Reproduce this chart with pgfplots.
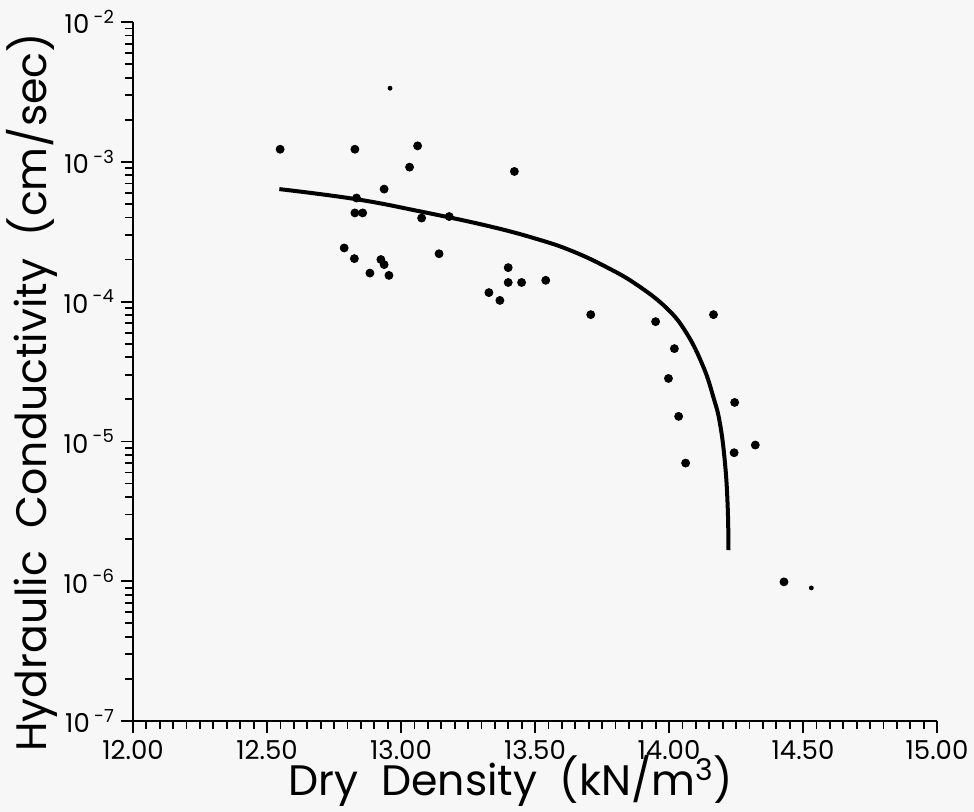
\documentclass[border=0pt]{standalone}
\usepackage{fontspec}
\setmainfont{Poppins}
\usepackage{pgfplots}
\pgfplotsset{compat=1.18}
\newcommand{\sx}[1]{10\,\raisebox{0.75ex}{\fontsize{9}{9}\selectfont #1}}
\begin{document}
\begin{tikzpicture}
\path[use as bounding box, fill=black!3] (0,0) rectangle (487pt,406pt);
\begin{axis}[
  at={(66.5pt,45.5pt)}, anchor=south west,
  scale only axis, width=402pt, height=349.5pt,
  xmin=12, xmax=15, ymin=1e-7, ymax=1e-2,
  ymode=log, log basis y=10,
  axis lines=left, axis line style={line width=1.4pt,-},
  tick align=outside, tick style={black, line width=0.9pt},
  major tick length=6pt, minor tick length=4pt,
  xtick={12,12.5,13,13.5,14,14.5,15},
  xticklabels={12.00,12.50,13.00,13.50,14.00,14.50,15.00},
  minor x tick num=9,
  ytick={1e-7,1e-6,1e-5,1e-4,1e-3,1e-2},
  yticklabels={\sx{-7},\sx{-6},\sx{-5},\sx{-4},\sx{-3},\sx{-2}},
  minor ytick={2e-7,3e-7,4e-7,5e-7,6e-7,7e-7,8e-7,9e-7,
               2e-6,3e-6,4e-6,5e-6,6e-6,7e-6,8e-6,9e-6,
               2e-5,3e-5,4e-5,5e-5,6e-5,7e-5,8e-5,9e-5,
               2e-4,3e-4,4e-4,5e-4,6e-4,7e-4,8e-4,9e-4,
               2e-3,3e-3,4e-3,5e-3,6e-3,7e-3,8e-3,9e-3},
  ticklabel style={font=\fontsize{13}{13}\selectfont},
  every axis x label/.style={at={(axis description cs:0.47,-0.107)}, anchor=base},
  every axis y label/.style={at={(axis description cs:-0.126,0.47)}, rotate=90, anchor=center},
  label style={font=\fontsize{21.3}{21.3}\selectfont},
  xlabel={Dry\ \ Density\ \ (kN/m\textsuperscript{3})},
  ylabel={Hydraulic\ \ Conductivity\ \ (cm/sec)},
  clip=false,
]
% fitted curve
\addplot[black, line width=2pt, smooth, tension=0.7] coordinates {
 (12.546,6.38e-4) (12.828,5.42e-4) (13.071,4.42e-4) (13.332,3.45e-4)
 (13.519,2.76e-4) (13.643,2.28e-4) (13.768,1.76e-4) (13.880,1.32e-4)
 (13.992,8.95e-5) (14.066,5.93e-5) (14.128,3.42e-5) (14.165,2.09e-5)
 (14.190,1.35e-5) (14.209,6.97e-6) (14.219,3.41e-6) (14.222,1.67e-6)
};
% data points
\addplot[only marks, mark=*, mark size=2pt, black] coordinates {
 (12.549,1.23e-3) (12.828,1.23e-3) (13.062,1.30e-3) (13.032,9.16e-4)
 (13.423,8.53e-4) (12.937,6.38e-4) (12.834,5.51e-4) (12.828,4.31e-4)
 (12.857,4.31e-4) (13.077,3.96e-4) (13.180,4.06e-4) (12.788,2.42e-4)
 (12.826,2.03e-4) (12.925,2.00e-4) (12.937,1.84e-4) (12.884,1.60e-4)
 (12.955,1.54e-4) (13.142,2.20e-4) (13.400,1.75e-4) (13.400,1.37e-4)
 (13.450,1.37e-4) (13.540,1.42e-4) (13.328,1.16e-4) (13.369,1.02e-4)
 (13.708,8.07e-5) (13.950,7.19e-5) (14.166,8.07e-5) (14.020,4.61e-5)
 (13.998,2.82e-5) (14.245,1.90e-5) (14.036,1.51e-5) (14.322,9.42e-6)
 (14.243,8.30e-6) (14.062,7.00e-6) (14.429,9.89e-7)
};
\addplot[only marks, mark=*, mark size=1pt, black] coordinates {
 (12.959,3.36e-3) (14.531,8.95e-7)
};
\end{axis}
\end{tikzpicture}
\end{document}
